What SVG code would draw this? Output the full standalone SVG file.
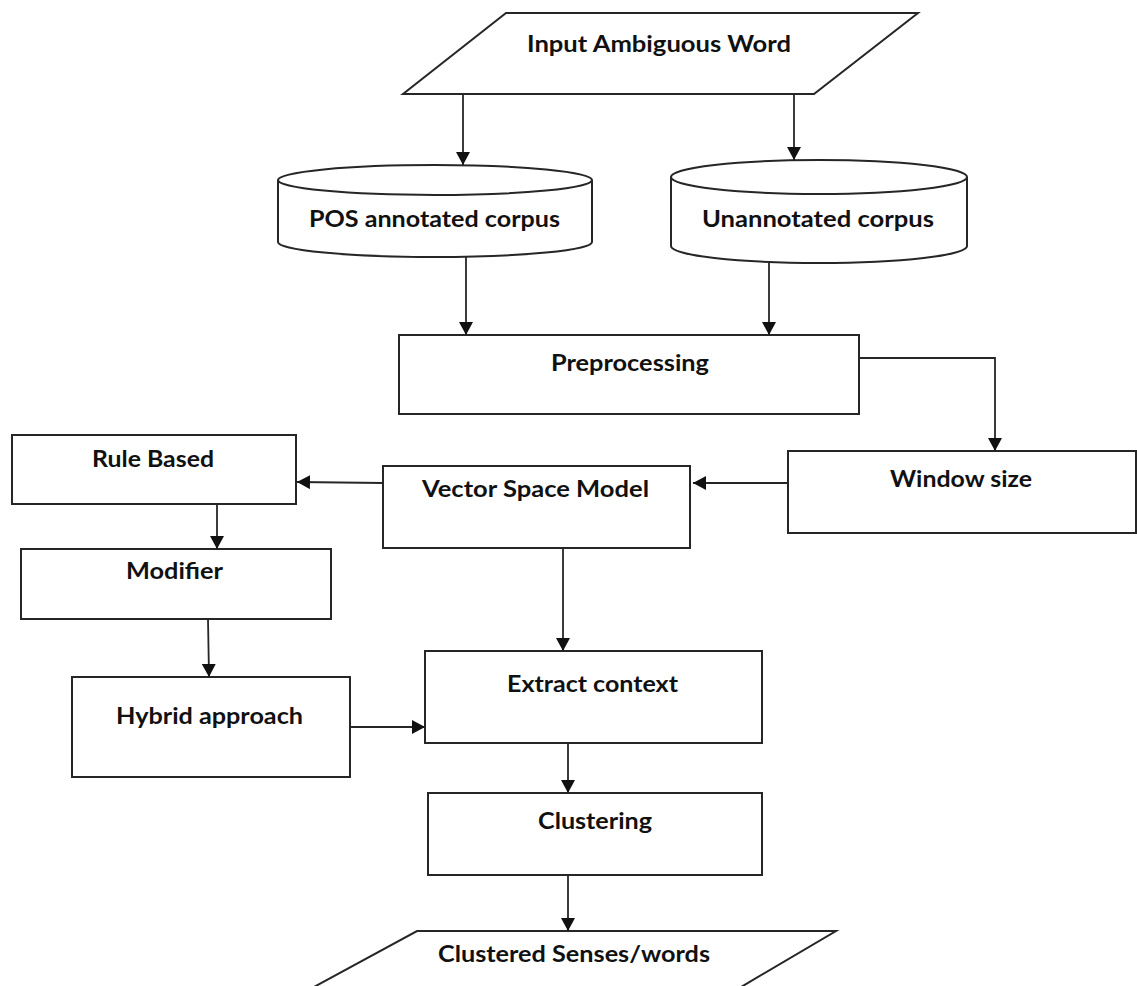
<svg xmlns="http://www.w3.org/2000/svg" width="1137" height="986" viewBox="0 0 1137 986">
<style>
.shape{fill:#fff;stroke:#262626;stroke-width:2}
.lbl{font-family:Lato,"Liberation Sans",sans-serif;font-weight:bold;font-size:22px;fill:#111}
.conn{fill:none;stroke:#262626;stroke-width:1.8;marker-end:url(#arr)}
</style>
<defs>
<marker id="arr" markerUnits="userSpaceOnUse" markerWidth="14" markerHeight="15" refX="13" refY="7" orient="auto">
<path d="M0,0 L13,7 L0,14 Z" fill="#111"/>
</marker>
</defs>
<rect width="1137" height="986" fill="#fff"/>
<g id="input">
<polygon class="shape" points="506,13 918,13 814,94 403,94"/>
<text class="lbl" x="527" y="52" textLength="264" lengthAdjust="spacingAndGlyphs">Input Ambiguous Word</text>
</g>
<g id="pos-corpus">
<path class="shape" d="M278,180 A157,15 0 0,1 592,180 L592,242 A157,15 0 0,1 278,242 Z"/>
<path class="shape" style="fill:none" d="M278,180 A157,15 0 0,0 592,180"/>
<text class="lbl" x="309" y="227" textLength="251" lengthAdjust="spacingAndGlyphs">POS annotated corpus</text>
</g>
<g id="unannotated-corpus">
<path class="shape" d="M671,177 A148,17 0 0,1 967,177 L967,246 A148,17 0 0,1 671,246 Z"/>
<path class="shape" style="fill:none" d="M671,177 A148,17 0 0,0 967,177"/>
<text class="lbl" x="702" y="227" textLength="232" lengthAdjust="spacingAndGlyphs">Unannotated corpus</text>
</g>
<g id="preprocessing">
<rect class="shape" x="399" y="335" width="460" height="79"/>
<text class="lbl" x="551" y="371" textLength="158" lengthAdjust="spacingAndGlyphs">Preprocessing</text>
</g>
<g id="window-size">
<rect class="shape" x="788" y="451" width="348" height="82"/>
<text class="lbl" x="890" y="487" textLength="142" lengthAdjust="spacingAndGlyphs">Window size</text>
</g>
<g id="vsm">
<rect class="shape" x="383" y="466" width="307" height="82"/>
<text class="lbl" x="422" y="497" textLength="227" lengthAdjust="spacingAndGlyphs">Vector Space Model</text>
</g>
<g id="rule-based">
<rect class="shape" x="12" y="435" width="284" height="69"/>
<text class="lbl" x="92" y="467" textLength="122" lengthAdjust="spacingAndGlyphs">Rule Based</text>
</g>
<g id="modifier">
<rect class="shape" x="21" y="549" width="310" height="70"/>
<text class="lbl" x="126" y="579" textLength="97" lengthAdjust="spacingAndGlyphs">Modifier</text>
</g>
<g id="hybrid">
<rect class="shape" x="72" y="677" width="278" height="100"/>
<text class="lbl" x="116" y="724" textLength="187" lengthAdjust="spacingAndGlyphs">Hybrid approach</text>
</g>
<g id="extract">
<rect class="shape" x="425" y="651" width="337" height="92"/>
<text class="lbl" x="507" y="692" textLength="171" lengthAdjust="spacingAndGlyphs">Extract context</text>
</g>
<g id="clustering">
<rect class="shape" x="428" y="793" width="334" height="82"/>
<text class="lbl" x="538" y="829" textLength="114" lengthAdjust="spacingAndGlyphs">Clustering</text>
</g>
<g id="output">
<polygon class="shape" points="417,931 836,931 719,1000 290,1000"/>
<text class="lbl" x="438" y="962" textLength="272" lengthAdjust="spacingAndGlyphs">Clustered Senses/words</text>
</g>
<g id="connectors">
<path class="conn" d="M463,94 L463,165"/>
<path class="conn" d="M794,94 L794,160"/>
<path class="conn" d="M466,257 L466,335"/>
<path class="conn" d="M769,263 L769,335"/>
<path class="conn" d="M859,358 L995,358 L995,451"/>
<path class="conn" d="M788,483 L693,483"/>
<path class="conn" d="M383,483 L297,482"/>
<path class="conn" d="M217,504 L217,549"/>
<path class="conn" d="M208,619 L209,677"/>
<path class="conn" d="M350,727 L425,727"/>
<path class="conn" d="M563,548 L563,651"/>
<path class="conn" d="M568,743 L568,793"/>
<path class="conn" d="M568,875 L568,931"/>
</g>
</svg>
